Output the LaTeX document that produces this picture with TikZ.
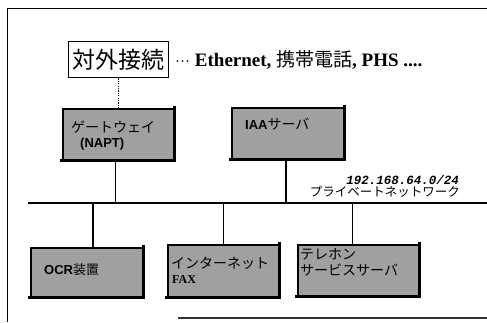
\documentclass[tikz,border=0pt]{standalone}
\usepackage{fontspec}
\setmainfont{Liberation Serif}
\newfontfamily\jp{Noto Sans CJK JP}
\newfontfamily\lsans{Liberation Sans}
\newfontfamily\lmono{Liberation Mono}
\definecolor{boxgray}{HTML}{A0A0A0}
\begin{document}
\begin{tikzpicture}[x=1pt,y=-1pt,
  box/.style={draw=black, line width=1.6pt, fill=boxgray, anchor=north west, inner sep=0pt},
  shadowline/.style={line width=3.2pt, line cap=rect},
  wire/.style={line width=1.5pt},
  txt/.style={inner sep=0pt, anchor=west},
  jpbox/.style={txt, font=\jp\fontsize{14}{16}\selectfont}]
\useasboundingbox (0,0) rectangle (487,322);
% outer frame
\draw[line width=1pt] (487,8) -- (7,8) -- (7,322);
\draw[line width=1.3pt, black!80] (178,318) -- (487,318);
% external connection
\node[draw, line width=1.3pt, fill=white, anchor=north west, minimum width=100pt, minimum height=36pt, inner sep=0pt,
  font=\jp\fontsize{23}{25}\selectfont] (conn) at (68,41) {対外接続};
\node[txt, font=\bfseries\fontsize{19}{21}\selectfont] (ext) at (175,60) {{\mdseries\fontsize{15}{17}\selectfont ···} Ethernet, {\jp\mdseries 携帯電話}, PHS ....};
% gateway
\node[box, minimum width=111pt, minimum height=51pt] (gw) at (62,108) {};
\draw[shadowline] (gw.north east) -- (gw.south east) -- (gw.south west);
\node[jpbox] (gwt) at (71,127) {ゲートウェイ};
\node[txt, font=\lsans\bfseries\fontsize{13}{15}\selectfont] (gwn) at (80,144) {(NAPT)};
\draw[line width=1.6pt, dash pattern=on 1.2pt off 1.2pt] (conn.south) -- (conn.south |- gw.north);
% IAA server
\node[box, minimum width=112pt, minimum height=51pt] (iaa) at (231,107) {};
\draw[shadowline] (iaa.north east) -- (iaa.south east) -- (iaa.south west);
\node[txt] (iaat) at (245,124) {\lsans\bfseries\fontsize{13}{15}\selectfont IAA\jp\mdseries\fontsize{14}{16}\selectfont サーバ};
% bus
\coordinate (busL) at (28,203);
\coordinate (busR) at (487,203);
\draw[line width=1.5pt] (busL) -- (busR);
\node[anchor=east, inner sep=0pt, font=\lmono\bfseries\itshape\fontsize{12.5}{14}\selectfont] (net) at (459,180) {192.168.64.0/24};
\node[anchor=east, inner sep=0pt, font=\jp\fontsize{12.5}{14}\selectfont] (netj) at (460,192) {プライベートネットワーク};
\draw[wire] ([xshift=-3pt]gw.south) -- ([xshift=-3pt]gw.south |- busL);
\draw[wire] ([xshift=-2pt]iaa.south) -- ([xshift=-2pt]iaa.south |- busL);
% lower boxes
\node[box, minimum width=112pt, minimum height=49pt] (ocr) at (30,247) {};
\draw[shadowline] (ocr.north east) -- (ocr.south east) -- (ocr.south west);
\node[txt] (ocrt) at (44,270) {\lsans\bfseries\fontsize{13}{15}\selectfont OCR\jp\mdseries\fontsize{13}{15}\selectfont 装置};
\node[box, minimum width=111pt, minimum height=52pt] (fax) at (167,244) {};
\draw[shadowline] (fax.north east) -- (fax.south east) -- (fax.south west);
\node[jpbox] (faxt) at (171,263) {インターネット};
\node[txt, font=\bfseries\fontsize{12}{14}\selectfont] (faxf) at (172,280) {FAX};
\node[box, minimum width=121pt, minimum height=51pt] (tel) at (297,244) {};
\draw[shadowline] (tel.north east) -- (tel.south east) -- (tel.south west);
\node[jpbox] (telt1) at (300,254) {テレホン};
\node[jpbox] (telt2) at (300,270) {サービスサーバ};
\draw[wire] ([xshift=6pt]ocr.north) -- ([xshift=6pt]ocr.north |- busL);
\draw[wire] (fax.north) -- (fax.north |- busL);
\draw[wire] ([xshift=-6pt]tel.north) -- ([xshift=-6pt]tel.north |- busL);
\end{tikzpicture}
\end{document}
